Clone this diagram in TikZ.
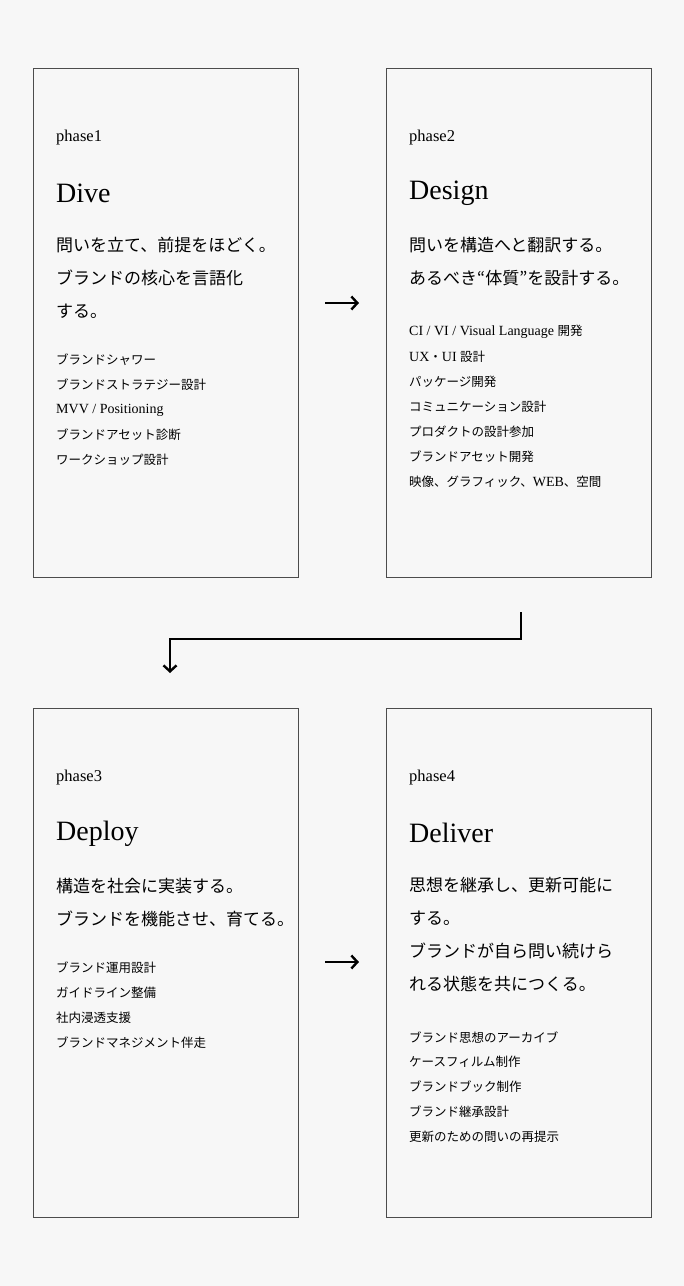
\documentclass[tikz,border=0pt]{standalone}
\usepackage{fontspec}
\setmainfont{Liberation Serif}
\newfontfamily\jp{Noto Sans CJK JP}
\usetikzlibrary{arrows.meta}
\begin{document}
\begin{tikzpicture}[x=1pt,y=-1pt,
  box/.style={draw=black!70,line width=0.6pt},
  ph/.style={anchor=west,font=\fontsize{16.5}{16.5}\selectfont,inner sep=0},
  ttl/.style={anchor=west,font=\fontsize{28}{28}\selectfont,inner sep=0},
  lead/.style={anchor=west,font=\jp\fontsize{17}{17}\selectfont,inner sep=0},
  item/.style={anchor=west,font=\jp\fontsize{12.5}{12.5}\selectfont,inner sep=0},
  arr/.style={line width=2.4pt,-{Straight Barb[length=6pt,width=13pt,line width=2.4pt]}}]
\fill[black!3] (0,0) rectangle (684,1286);
\useasboundingbox (0,0) rectangle (684,1286);
\node[box,minimum width=265,minimum height=509,anchor=north west,inner sep=0] (b1) at (33,68) {};
\node[box,minimum width=265,minimum height=509,anchor=north west,inner sep=0] (b2) at (386,68) {};
\node[box,minimum width=265,minimum height=509,anchor=north west,inner sep=0] (b3) at (33,708) {};
\node[box,minimum width=265,minimum height=509,anchor=north west,inner sep=0] (b4) at (386,708) {};
% box1
\node[ph] (p1) at (56,138) {phase1};
\node[ttl] (t1) at (56,193) {Dive};
\node[lead] (l11) at (56,245) {問いを立て、前提をほどく。};
\node[lead] (l12) at (56,278) {ブランドの核心を言語化};
\node[lead] (l13) at (56,311) {する。};
\node[item] (i11) at (56,360) {ブランドシャワー};
\node[item] (i12) at (56,385) {ブランドストラテジー設計};
\node[item,font=\fontsize{14}{14}\selectfont] (i13) at (56,410) {MVV / Positioning};
\node[item] (i14) at (56,435) {ブランドアセット診断};
\node[item] (i15) at (56,460) {ワークショップ設計};
% box2
\node[ph] (p2) at (409,138) {phase2};
\node[ttl] (t2) at (409,193) {Design};
\node[lead] (l21) at (409,245) {問いを構造へと翻訳する。};
\node[lead] (l22) at (409,278) {あるべき“体質”を設計する。};
\node[item,font=\fontsize{14}{14}\selectfont] (i21) at (409,332) {CI / VI / Visual Language {\jp\fontsize{12.5}{12.5}\selectfont 開発}};
\node[item,font=\fontsize{14}{14}\selectfont] (i22) at (409,357) {UX{\jp\fontsize{12.5}{12.5}\selectfont ・}UI {\jp\fontsize{12.5}{12.5}\selectfont 設計}};
\node[item] (i23) at (409,382) {パッケージ開発};
\node[item] (i24) at (409,407) {コミュニケーション設計};
\node[item] (i25) at (409,432) {プロダクトの設計参加};
\node[item] (i26) at (409,457) {ブランドアセット開発};
\node[item] (i27) at (409,482) {映像、グラフィック、{\rmfamily\fontsize{14}{14}\selectfont WEB}、空間};
% box3
\node[ph] (p3) at (56,778) {phase3};
\node[ttl] (t3) at (56,834) {Deploy};
\node[lead] (l31) at (56,886) {構造を社会に実装する。};
\node[lead] (l32) at (56,919) {ブランドを機能させ、育てる。};
\node[item] (i31) at (56,968) {ブランド運用設計};
\node[item] (i32) at (56,993) {ガイドライン整備};
\node[item] (i33) at (56,1018) {社内浸透支援};
\node[item] (i34) at (56,1043) {ブランドマネジメント伴走};
% box4
\node[ph] (p4) at (409,778) {phase4};
\node[ttl] (t4) at (409,833) {Deliver};
\node[lead] (l41) at (409,885) {思想を継承し、更新可能に};
\node[lead] (l42) at (409,918) {する。};
\node[lead] (l43) at (409,951) {ブランドが自ら問い続けら};
\node[lead] (l44) at (409,984) {れる状態を共につくる。};
\node[item] (i41) at (409,1037) {ブランド思想のアーカイブ};
\node[item] (i42) at (409,1062) {ケースフィルム制作};
\node[item] (i43) at (409,1087) {ブランドブック制作};
\node[item] (i44) at (409,1112) {ブランド継承設計};
\node[item] (i45) at (409,1137) {更新のための問いの再提示};
% arrows
\coordinate (a1s) at (325,303); \coordinate (a1e) at (359,303);
\draw[arr] (a1s) -- (a1e);
\coordinate (a3s) at (325,962); \coordinate (a3e) at (359,962);
\draw[arr] (a3s) -- (a3e);
\coordinate (e1) at (521,612); \coordinate (e2) at (521,639);
\coordinate (e3) at (170,639); \coordinate (e4) at (170,673);
\draw[arr] (e1) -- (e2) -- (e3) -- (e4);
\end{tikzpicture}
\end{document}
